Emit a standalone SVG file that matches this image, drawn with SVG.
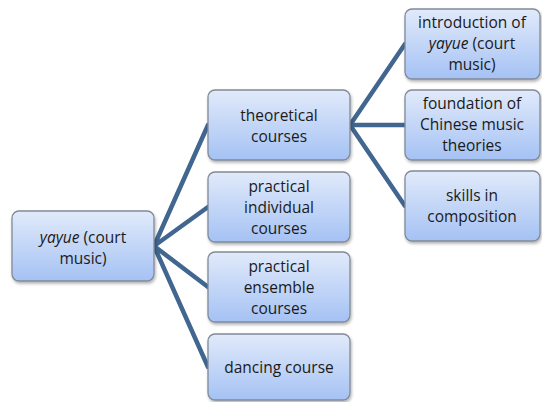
<svg xmlns="http://www.w3.org/2000/svg" width="542" height="402" viewBox="0 0 542 402">
<defs>
<linearGradient id="g" x1="0" y1="0" x2="0" y2="1">
<stop offset="0" stop-color="#e1eafa"/>
<stop offset="1" stop-color="#a5c2f4"/>
</linearGradient>
<filter id="sh" x="-10%" y="-10%" width="130%" height="130%">
<feDropShadow dx="1" dy="2" stdDeviation="1.5" flood-color="#000" flood-opacity="0.3"/>
</filter>
</defs>
<style>
.box{fill:url(#g);stroke:#808a99;stroke-width:1.3;filter:url(#sh)}
.t{font-family:"Open Sans","Liberation Sans",sans-serif;font-size:15.5px;fill:#1a1a1a;text-anchor:middle}
.c{stroke:#41668f;stroke-width:4.5;fill:none;stroke-linecap:round}
</style>
<rect width="542" height="402" fill="#fff"/>
<g id="connectors">
<path class="c" d="M154,246 L208,125 M154,246 L208,207 M154,246 L208,287 M154,246 L208,367"/>
<path class="c" d="M350,125 L405,44 M350,125 L405,125 M350,125 L405,206"/>
</g>
<g id="root">
<rect class="box" x="12" y="211" width="142" height="70" rx="7"/>
<text class="t" x="83" y="243"><tspan font-style="italic">yayue</tspan> (court</text>
<text class="t" x="83" y="264">music)</text>
</g>
<g id="theoretical">
<rect class="box" x="208" y="90" width="142" height="70" rx="7"/>
<text class="t" x="279" y="121">theoretical</text>
<text class="t" x="279" y="142">courses</text>
</g>
<g id="individual">
<rect class="box" x="208" y="172" width="142" height="70" rx="7"/>
<text class="t" x="279" y="192">practical</text>
<text class="t" x="279" y="213">individual</text>
<text class="t" x="279" y="234">courses</text>
</g>
<g id="ensemble">
<rect class="box" x="208" y="252" width="142" height="70" rx="7"/>
<text class="t" x="279" y="272">practical</text>
<text class="t" x="279" y="293">ensemble</text>
<text class="t" x="279" y="314">courses</text>
</g>
<g id="dancing">
<rect class="box" x="208" y="334" width="142" height="66" rx="7"/>
<text class="t" x="279" y="373">dancing course</text>
</g>
<g id="intro">
<rect class="box" x="405" y="9" width="135" height="70" rx="7"/>
<text class="t" x="472" y="28">introduction of</text>
<text class="t" x="472" y="49"><tspan font-style="italic">yayue</tspan> (court</text>
<text class="t" x="472" y="70">music)</text>
</g>
<g id="foundation">
<rect class="box" x="405" y="90" width="135" height="70" rx="7"/>
<text class="t" x="472" y="109">foundation of</text>
<text class="t" x="472" y="130">Chinese music</text>
<text class="t" x="472" y="151">theories</text>
</g>
<g id="skills">
<rect class="box" x="405" y="171" width="135" height="70" rx="7"/>
<text class="t" x="472" y="201">skills in</text>
<text class="t" x="472" y="222">composition</text>
</g>
</svg>
